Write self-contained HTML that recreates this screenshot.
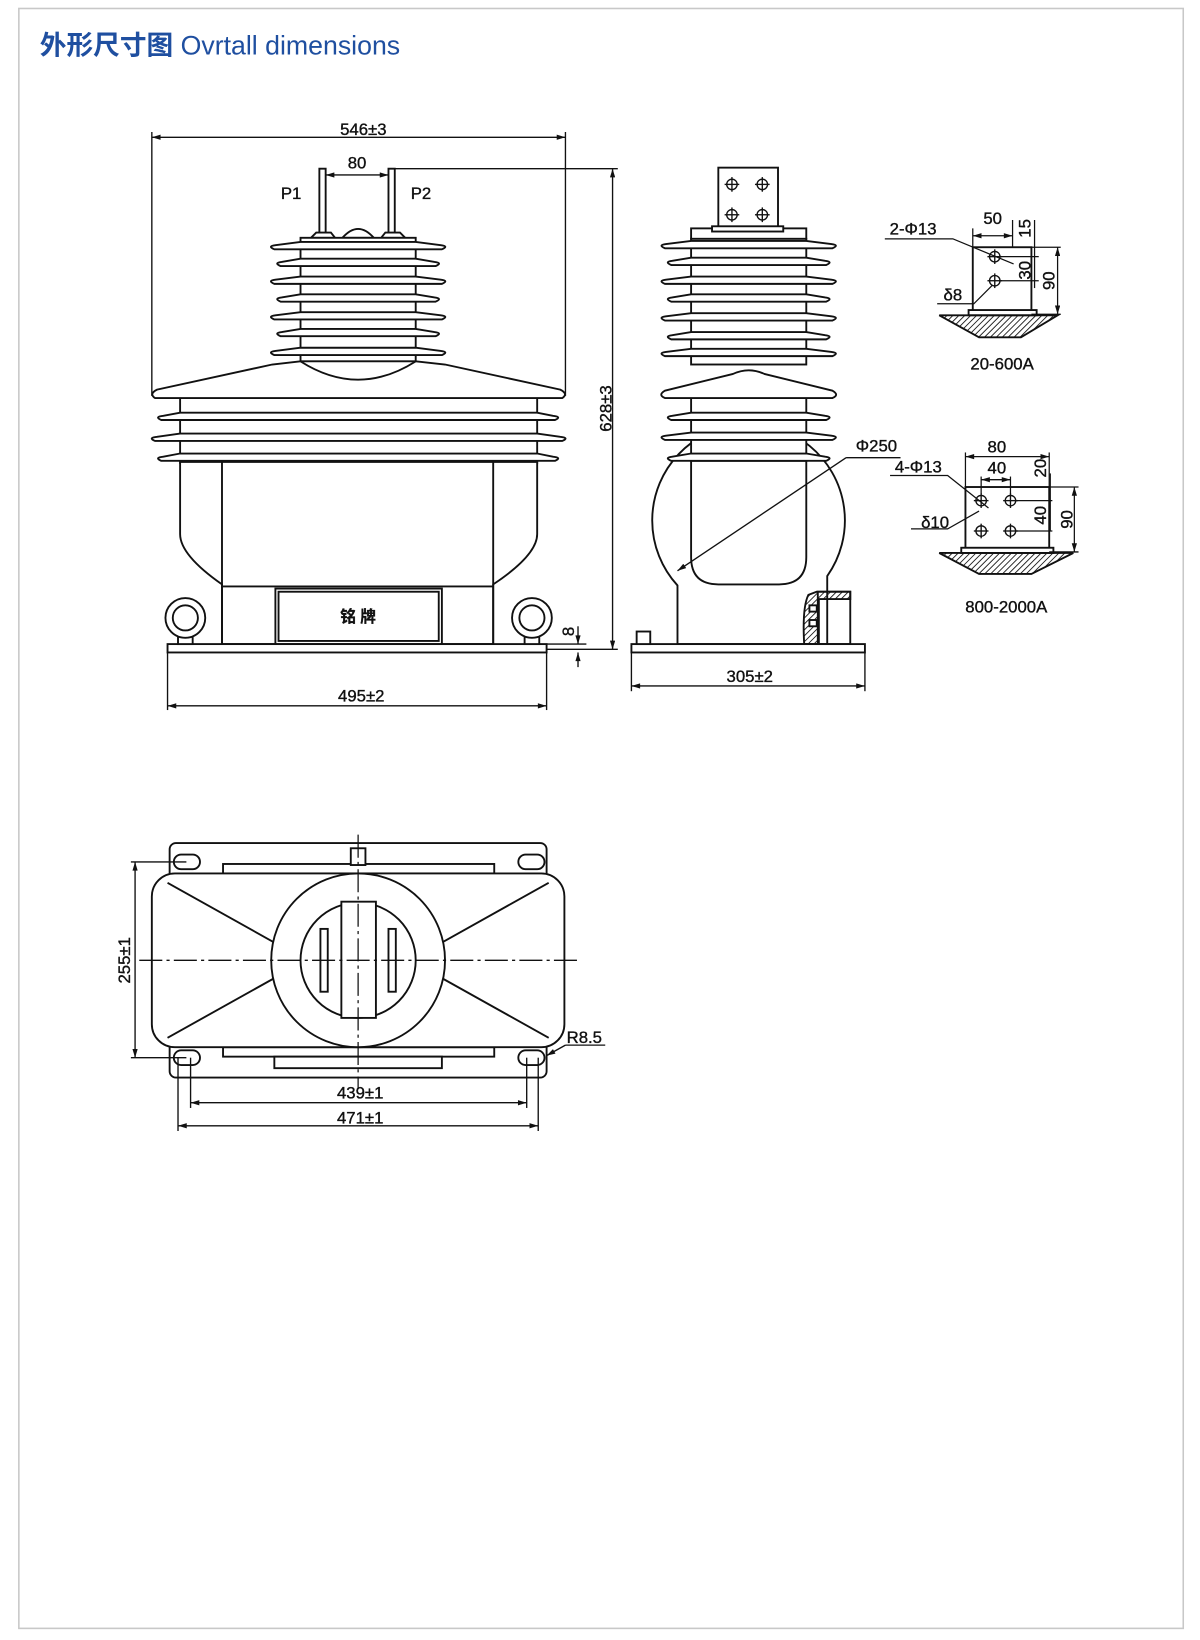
<!DOCTYPE html>
<html><head><meta charset="utf-8"><style>
html,body{margin:0;padding:0;background:#fff;}
svg{display:block;}
text{font-family:"Liberation Sans","Noto Sans CJK SC",sans-serif;fill:#111;stroke:#111;stroke-width:0.35;}
</style></head><body>
<svg width="1200" height="1640" viewBox="0 0 1146 1566" xmlns="http://www.w3.org/2000/svg">
<defs>
<pattern id="h" width="4" height="4" patternUnits="userSpaceOnUse" patternTransform="rotate(45)"><line x1="0" y1="0" x2="0" y2="4" stroke="#222" stroke-width="1.8"/></pattern>
<marker id="a" viewBox="0 0 10 6" refX="10" refY="3" markerWidth="10" markerHeight="5" orient="auto-start-reverse" markerUnits="userSpaceOnUse"><path d="M0,0 L10,3 L0,6 Z" fill="#111" stroke="none"/></marker>
<path id="fw" d="M262,3 L422,3 Q429,0 421,-1 L397,-4 L287,-4 L263,-1 Q255,0 262,3 Z"/>
<path id="fn" d="M268,3 L416,3 Q423,0 415,-1 L397,-4 L287,-4 L269,-1 Q261,0 268,3 Z"/>
<path id="lw" d="M148,3 L537,3 Q544,0 535,-1 L513,-4 L172,-4 L150,-1 Q141,0 148,3 Z"/>
<path id="ln" d="M154,3 L530,3 Q537,0 528,-1 L513,-4 L172,-4 L156,-1 Q147,0 154,3 Z"/>
<path id="sw" d="M635,3 L795,3 Q802,0 794,-1 L770,-4 L660,-4 L636,-1 Q628,0 635,3 Z"/>
<path id="sn" d="M641,3 L789,3 Q796,0 788,-1 L770,-4 L660,-4 L642,-1 Q634,0 641,3 Z"/>
<g id="hole"><circle r="5" fill="none"/><line x1="-7" y1="0" x2="7" y2="0"/><line x1="0" y1="-7" x2="0" y2="7"/></g>
</defs>
<rect x="18" y="8" width="1112" height="1547" fill="none" stroke="#c8c8c8" stroke-width="1.5"/>
<text x="38" y="52" font-size="25.5" style="fill:#1f4fa0;stroke:none"><tspan font-weight="bold">外形尺寸图</tspan> Ovrtall dimensions</text>

<g stroke="#111" stroke-width="1.8" fill="#fff">
<!-- FRONT VIEW -->
<line x1="145" y1="131" x2="540" y2="131" stroke-width="1.3" marker-start="url(#a)" marker-end="url(#a)"/>
<line x1="145" y1="126" x2="145" y2="378" stroke-width="1.3"/>
<line x1="540" y1="126" x2="540" y2="378" stroke-width="1.3"/>
<line x1="377" y1="161" x2="590" y2="161" stroke-width="1.3"/>
<line x1="585" y1="161" x2="585" y2="620" stroke-width="1.3" marker-start="url(#a)" marker-end="url(#a)"/>
<line x1="522" y1="620" x2="590" y2="620" stroke-width="1.3"/>
<line x1="311" y1="167" x2="371" y2="167" stroke-width="1.3" marker-start="url(#a)" marker-end="url(#a)"/>
<rect x="305" y="161" width="6" height="63"/>
<rect x="371" y="161" width="6" height="63"/>
<path d="M297,227 L302,222 L316,222 L320,227 Z"/>
<path d="M364,227 L368,222 L382,222 L387,227 Z"/>
<path d="M327,227 Q342,210 357,227 Z"/>
<rect x="287" y="227" width="110" height="118"/>
<use href="#fw" y="235"/><use href="#fn" y="251"/><use href="#fw" y="268"/><use href="#fn" y="285"/><use href="#fw" y="302"/><use href="#fn" y="318"/><use href="#fw" y="336"/>
<rect x="172" y="380" width="341" height="62"/>
<path d="M287,345 L260,348 L150,372 Q142,376 148,380 L537,380 Q543,376 535,372 L425,348 L397,345 Z"/>
<path d="M287,345 Q342,380 397,345" fill="none"/>
<use href="#ln" y="398"/><use href="#lw" y="418"/><use href="#ln" y="437"/>
<path d="M172,441 L172,510 Q172,530 212,558 L212,615 L471,615 L471,558 Q513,530 513,510 L513,441 Z"/>
<line x1="212" y1="441" x2="212" y2="615"/>
<line x1="471" y1="441" x2="471" y2="615"/>
<line x1="212" y1="560" x2="471" y2="560"/>
<rect x="263" y="562" width="159" height="53"/>
<rect x="266" y="565" width="153" height="47"/>
<rect x="160" y="615" width="362" height="8"/>
<rect x="170" y="605" width="14" height="10"/><rect x="501" y="605" width="14" height="10"/>
<circle cx="177" cy="590" r="19"/><circle cx="177" cy="590" r="12"/>
<circle cx="508" cy="590" r="19"/><circle cx="508" cy="590" r="12"/>
<line x1="160" y1="623" x2="160" y2="678" stroke-width="1.3"/>
<line x1="522" y1="623" x2="522" y2="678" stroke-width="1.3"/>
<line x1="160" y1="674" x2="522" y2="674" stroke-width="1.3" marker-start="url(#a)" marker-end="url(#a)"/>
<line x1="552" y1="598" x2="552" y2="615" stroke-width="1.3" marker-end="url(#a)"/>
<line x1="552" y1="637" x2="552" y2="623" stroke-width="1.3" marker-end="url(#a)"/>
<line x1="522" y1="615" x2="560" y2="615" stroke-width="1.3"/>

<!-- SIDE VIEW -->
<path d="M647,615 L647,559 A92,92 0 1 1 790,550 L790,615 Z"/>
<rect x="686" y="160" width="57" height="60"/>
<g stroke-width="1.3"><use href="#hole" x="699" y="176"/><use href="#hole" x="728" y="176"/><use href="#hole" x="699" y="205"/><use href="#hole" x="728" y="205"/></g>
<rect x="660" y="218" width="110" height="10"/>
<rect x="680" y="216" width="68" height="5"/>
<rect x="660" y="228" width="110" height="120"/>
<use href="#sw" y="234"/><use href="#sn" y="250"/><use href="#sw" y="268"/><use href="#sn" y="285"/><use href="#sw" y="303"/><use href="#sn" y="321"/><use href="#sw" y="337"/>
<rect x="660" y="380" width="110" height="60"/>
<path d="M700,357 Q715,350 730,357 L795,373 Q802,377 795,380 L635,380 Q628,377 635,373 Z"/>
<use href="#sn" y="398"/><use href="#sw" y="417"/><use href="#sn" y="437"/>
<path d="M660,440 L660,532 Q660,558 686,558 L744,558 Q770,558 770,532 L770,440" fill="none"/>
<line x1="808" y1="437" x2="647" y2="545" stroke-width="1.3" marker-end="url(#a)"/>
<line x1="808" y1="437" x2="860" y2="437" stroke-width="1.3"/>
<path d="M772,568 Q766,580 768,615 L782,615 L782,572 L812,572 L812,565 L780,565 Z" fill="url(#h)"/>
<rect x="781" y="565" width="31" height="50" fill="none"/>
<rect x="773" y="578" width="7" height="6"/><rect x="773" y="592" width="7" height="6"/>
<rect x="603" y="615" width="223" height="8"/>
<rect x="608" y="603" width="13" height="12"/>
<line x1="603" y1="623" x2="603" y2="660" stroke-width="1.3"/>
<line x1="826" y1="623" x2="826" y2="660" stroke-width="1.3"/>
<line x1="603" y1="655" x2="826" y2="655" stroke-width="1.3" marker-start="url(#a)" marker-end="url(#a)"/>

<!-- DETAIL 20-600A -->
<rect x="929" y="236" width="56" height="62"/>
<rect x="925" y="296" width="65" height="5"/>
<path d="M897,301 L1010,301 L975,322 L935,322 Z" fill="url(#h)"/>
<g stroke-width="1.3"><use href="#hole" x="950" y="245"/><use href="#hole" x="950" y="268"/></g>
<g stroke-width="1.2">
<line x1="929" y1="218" x2="929" y2="236"/><line x1="967" y1="210" x2="967" y2="236"/>
<line x1="929" y1="225" x2="967" y2="225" marker-start="url(#a)" marker-end="url(#a)"/>
<line x1="985" y1="236" x2="1013" y2="236"/>
<line x1="955" y1="245" x2="992" y2="245"/>
<line x1="955" y1="268" x2="992" y2="268"/>
<line x1="985" y1="300" x2="1013" y2="300"/>
<line x1="988" y1="210" x2="988" y2="275"/>
<line x1="1010" y1="236" x2="1010" y2="300" marker-start="url(#a)" marker-end="url(#a)"/>
<polyline points="845,228 910,228 968,252" fill="none"/>
<polyline points="895,290 930,290 948,272" fill="none"/>
</g>

<!-- DETAIL 800-2000A -->
<rect x="922" y="465" width="80" height="60"/>
<rect x="918" y="523" width="88" height="5"/>
<path d="M897,528 L1025,528 L985,548 L935,548 Z" fill="url(#h)"/>
<g stroke-width="1.3"><use href="#hole" x="937" y="478"/><use href="#hole" x="965" y="478"/><use href="#hole" x="937" y="507"/><use href="#hole" x="965" y="507"/></g>
<g stroke-width="1.2">
<line x1="922" y1="432" x2="922" y2="465"/><line x1="1002" y1="432" x2="1002" y2="465"/>
<line x1="922" y1="436" x2="1002" y2="436" marker-start="url(#a)" marker-end="url(#a)"/>
<line x1="937" y1="455" x2="937" y2="472"/><line x1="965" y1="455" x2="965" y2="472"/>
<line x1="937" y1="458" x2="965" y2="458" marker-start="url(#a)" marker-end="url(#a)"/>
<line x1="1002" y1="465" x2="1030" y2="465"/>
<line x1="970" y1="478" x2="1005" y2="478"/>
<line x1="970" y1="507" x2="1005" y2="507"/>
<line x1="1002" y1="527" x2="1030" y2="527"/>
<line x1="1003" y1="452" x2="1003" y2="507"/>
<line x1="1026" y1="465" x2="1026" y2="527" marker-start="url(#a)" marker-end="url(#a)"/>
<polyline points="850,454 905,454 944,485" fill="none"/>
<polyline points="870,505 905,505 935,488" fill="none"/>
</g>

<!-- TOP VIEW -->
<rect x="162" y="805" width="360" height="224" rx="6"/>
<rect x="213" y="825" width="259" height="9"/>
<rect x="213" y="1000" width="259" height="9"/>
<rect x="262" y="1009" width="160" height="11"/>
<rect x="145" y="834" width="394" height="166" rx="22"/>
<g fill="none">
<rect x="166" y="816" width="25" height="14" rx="7"/>
<rect x="495" y="816" width="25" height="14" rx="7"/>
<rect x="166" y="1003" width="25" height="14" rx="7"/>
<rect x="495" y="1003" width="25" height="14" rx="7"/>
</g>
<rect x="335" y="810" width="14" height="16"/>
<line x1="160" y1="843" x2="262" y2="900"/>
<line x1="160" y1="991" x2="262" y2="934"/>
<line x1="524" y1="843" x2="422" y2="900"/>
<line x1="524" y1="991" x2="422" y2="934"/>
<circle cx="342" cy="917" r="83"/>
<circle cx="342" cy="917" r="55"/>
<rect x="326" y="861" width="33" height="111"/>
<rect x="306" y="887" width="7" height="60"/>
<rect x="371" y="887" width="7" height="60"/>
<g fill="none" stroke-dasharray="22,4,3,4" stroke-width="1.2">
<line x1="133" y1="917" x2="552" y2="917"/>
<line x1="342" y1="797" x2="342" y2="1040"/>
</g>
<g stroke-width="1.3">
<line x1="125" y1="823" x2="178" y2="823"/>
<line x1="125" y1="1010" x2="178" y2="1010"/>
<line x1="129" y1="823" x2="129" y2="1010" marker-start="url(#a)" marker-end="url(#a)"/>
<line x1="182" y1="1010" x2="182" y2="1058"/>
<line x1="503" y1="1010" x2="503" y2="1058"/>
<line x1="182" y1="1053" x2="503" y2="1053" marker-start="url(#a)" marker-end="url(#a)"/>
<line x1="170" y1="1010" x2="170" y2="1080"/>
<line x1="514" y1="1010" x2="514" y2="1080"/>
<line x1="170" y1="1075" x2="514" y2="1075" marker-start="url(#a)" marker-end="url(#a)"/>
<line x1="540" y1="998" x2="522" y2="1008" marker-end="url(#a)"/>
<line x1="540" y1="998" x2="578" y2="998"/>
</g>
</g>

<g font-size="16">
<text x="347" y="129" text-anchor="middle">546±3</text>
<text x="341" y="161" text-anchor="middle">80</text>
<text x="278" y="190" text-anchor="middle">P1</text>
<text x="402" y="190" text-anchor="middle">P2</text>
<text x="342" y="594" text-anchor="middle" font-weight="bold" font-size="15">铭 牌</text>
<text x="345" y="670" text-anchor="middle">495±2</text>
<text transform="translate(584,390) rotate(-90)" text-anchor="middle">628±3</text>
<text transform="translate(548,603) rotate(-90)" text-anchor="middle">8</text>
<text x="716" y="651" text-anchor="middle">305±2</text>
<text x="837" y="431" text-anchor="middle">Φ250</text>
<text x="948" y="214" text-anchor="middle">50</text>
<text x="872" y="224" text-anchor="middle">2-Φ13</text>
<text x="910" y="287" text-anchor="middle">δ8</text>
<text transform="translate(984,218) rotate(-90)" text-anchor="middle">15</text>
<text transform="translate(984,258) rotate(-90)" text-anchor="middle">30</text>
<text transform="translate(1007,268) rotate(-90)" text-anchor="middle">90</text>
<text x="957" y="353" text-anchor="middle">20-600A</text>
<text x="952" y="432" text-anchor="middle">80</text>
<text x="952" y="452" text-anchor="middle">40</text>
<text x="877" y="451" text-anchor="middle">4-Φ13</text>
<text x="893" y="504" text-anchor="middle">δ10</text>
<text transform="translate(999,447) rotate(-90)" text-anchor="middle">20</text>
<text transform="translate(999,492) rotate(-90)" text-anchor="middle">40</text>
<text transform="translate(1024,496) rotate(-90)" text-anchor="middle">90</text>
<text x="961" y="585" text-anchor="middle">800-2000A</text>
<text transform="translate(124,917) rotate(-90)" text-anchor="middle">255±1</text>
<text x="344" y="1049" text-anchor="middle">439±1</text>
<text x="344" y="1073" text-anchor="middle">471±1</text>
<text x="558" y="996" text-anchor="middle">R8.5</text>
</g>
</svg>
</body></html>
